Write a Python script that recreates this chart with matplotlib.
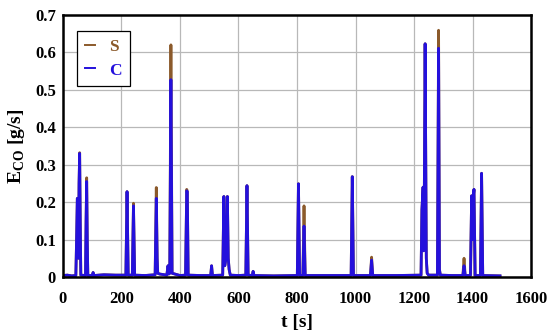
import matplotlib
matplotlib.use("Agg")
import matplotlib.pyplot as plt

BROWN = "#8b5a2b"
BLUE = "#2410dc"

plt.rcParams.update({
    "font.family": "Liberation Serif",
    "font.weight": "bold",
    "mathtext.fontset": "custom",
    "mathtext.rm": "Liberation Serif:bold",
    "mathtext.bf": "Liberation Serif:bold",
})

# breakpoints: time [s], S and C emissions [g/s]
t = [0, 15, 30, 44, 47, 49, 51, 53, 55, 57, 59, 61, 77, 79, 81, 83, 85,
     100, 103, 106, 140, 180, 215, 219, 223, 237, 241, 245, 280,
     315, 319, 322, 324, 330, 355, 359, 362, 365, 369, 373, 400,
     419, 423, 425, 428, 470, 505, 508, 511,
     546, 550, 553, 557, 562, 565, 568, 572, 600,
     625, 629, 633, 647, 650, 653, 720, 801, 805, 809,
     820, 824, 828, 900, 985, 989, 993, 1051, 1055, 1059, 1140,
     1224, 1227, 1229, 1231, 1233, 1235, 1238, 1242, 1245, 1250,
     1280, 1284, 1287, 1290, 1330, 1367, 1371, 1375,
     1393, 1397, 1399, 1401, 1405, 1409, 1427, 1431, 1435, 1494]

s = [0.004, 0.005, 0.003, 0.004, 0.12, 0.21, 0.20, 0.05, 0.25, 0.332, 0.15, 0.005, 0.004, 0.15, 0.265, 0.10, 0.004,
     0.004, 0.012, 0.004, 0.006, 0.005, 0.005, 0.228, 0.005, 0.005, 0.197, 0.005, 0.004,
     0.006, 0.239, 0.05, 0.01, 0.008, 0.005, 0.03, 0.008, 0.01, 0.62, 0.01, 0.004,
     0.005, 0.234, 0.228, 0.005, 0.004, 0.004, 0.03, 0.004,
     0.005, 0.215, 0.03, 0.05, 0.215, 0.05, 0.02, 0.005, 0.004,
     0.005, 0.244, 0.005, 0.004, 0.015, 0.004, 0.003, 0.004, 0.249, 0.004,
     0.004, 0.19, 0.004, 0.004, 0.004, 0.268, 0.004, 0.004, 0.053, 0.004, 0.004,
     0.005, 0.18, 0.21, 0.24, 0.07, 0.2, 0.623, 0.05, 0.01, 0.005,
     0.005, 0.659, 0.02, 0.005, 0.004, 0.004, 0.05, 0.004,
     0.004, 0.217, 0.10, 0.20, 0.234, 0.004, 0.004, 0.277, 0.004, 0.003]

c = [0.004, 0.005, 0.003, 0.004, 0.12, 0.21, 0.20, 0.05, 0.25, 0.33, 0.15, 0.005, 0.004, 0.15, 0.255, 0.10, 0.004,
     0.004, 0.012, 0.004, 0.006, 0.005, 0.005, 0.228, 0.005, 0.005, 0.19, 0.005, 0.004,
     0.006, 0.21, 0.05, 0.01, 0.008, 0.005, 0.03, 0.008, 0.01, 0.527, 0.01, 0.004,
     0.005, 0.23, 0.228, 0.005, 0.004, 0.004, 0.03, 0.004,
     0.005, 0.215, 0.03, 0.05, 0.215, 0.05, 0.02, 0.005, 0.004,
     0.005, 0.244, 0.005, 0.004, 0.015, 0.004, 0.003, 0.004, 0.249, 0.004,
     0.004, 0.136, 0.004, 0.004, 0.004, 0.268, 0.004, 0.004, 0.045, 0.004, 0.004,
     0.005, 0.18, 0.21, 0.24, 0.07, 0.2, 0.623, 0.05, 0.01, 0.005,
     0.005, 0.611, 0.02, 0.005, 0.004, 0.004, 0.03, 0.004,
     0.004, 0.217, 0.10, 0.20, 0.234, 0.004, 0.004, 0.277, 0.004, 0.003]

fig = plt.figure(figsize=(5.5, 3.36), dpi=100)
ax = fig.add_axes([0.1145, 0.1756, 0.851, 0.78])

ax.plot(t, s, color=BROWN, lw=2.0, label="S")
ax.plot(t, c, color=BLUE, lw=2.0, label="C")

ax.set_xlim(0, 1600)
ax.set_ylim(0, 0.7)
ax.set_xticks(range(0, 1601, 200))
ax.set_yticks([0, 0.1, 0.2, 0.3, 0.4, 0.5, 0.6, 0.7])
ax.set_yticklabels(["0", "0.1", "0.2", "0.3", "0.4", "0.5", "0.6", "0.7"])
ax.grid(color="#b8b8b8", lw=0.9)
ax.set_axisbelow(True)
ax.tick_params(length=0, labelsize=12)
ax.tick_params(axis="x", pad=10)
ax.tick_params(axis="y", pad=5)
for sp in ax.spines.values():
    sp.set_linewidth(1.8)

ax.set_xlabel("t [s]", fontsize=14, fontweight="bold", labelpad=5)
ax.set_ylabel(r"E$_{\mathrm{CO}}$ [g/s]", fontsize=14, fontweight="bold", labelpad=6)

leg = ax.legend(loc="upper left", bbox_to_anchor=(0.03, 0.94), handlelength=0.6,
                handletextpad=0.8, fancybox=False, edgecolor="black", framealpha=1,
                labelcolor="linecolor", prop={"family": "Liberation Serif", "weight": "bold", "size": 12.5},
                borderpad=0.45, labelspacing=0.45, borderaxespad=0)
leg.get_frame().set_linewidth(0.9)
for ln in leg.get_lines():
    ln.set_linewidth(1.4)

fig.savefig("out.png", dpi=100)
